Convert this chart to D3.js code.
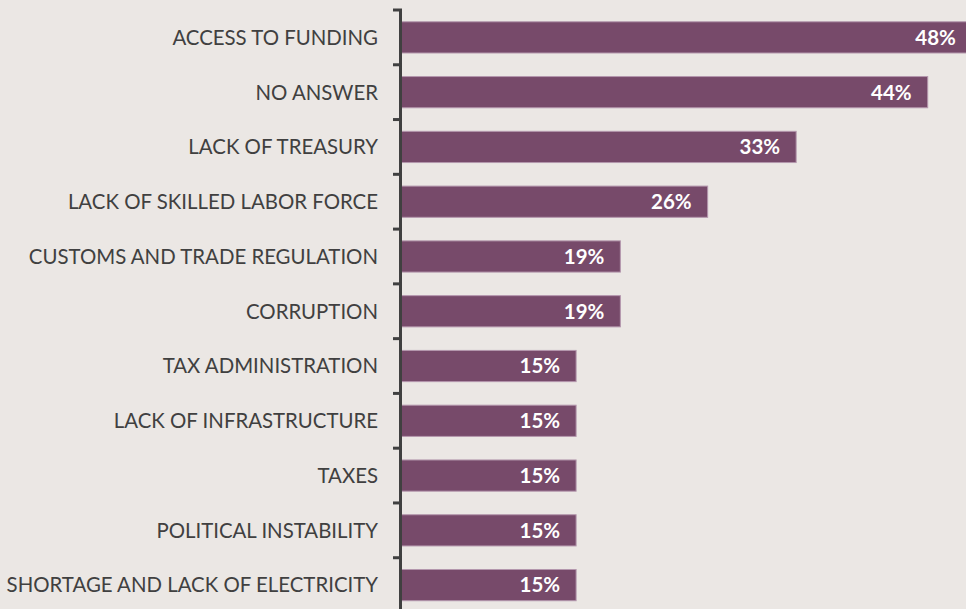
<!DOCTYPE html>
<html>
<head>
<meta charset="utf-8">
<script src="https://cdn.jsdelivr.net/npm/d3@7"></script>
<style>
  html, body { margin: 0; padding: 0; background: #ebe7e4; }
  svg { display: block; }
</style>
</head>
<body>
<svg id="chart" width="966" height="609"></svg>
<script>
const categories = [
  "ACCESS TO FUNDING",
  "NO ANSWER",
  "LACK OF TREASURY",
  "LACK OF SKILLED LABOR FORCE",
  "CUSTOMS AND TRADE REGULATION",
  "CORRUPTION",
  "TAX ADMINISTRATION",
  "LACK OF INFRASTRUCTURE",
  "TAXES",
  "POLITICAL INSTABILITY",
  "SHORTAGE AND LACK OF ELECTRICITY"
];
const values = [47.7, 44.0, 33.0, 25.6, 18.3, 18.3, 14.6, 14.6, 14.6, 14.6, 14.6];
const valueLabels = ["48%", "44%", "33%", "26%", "19%", "19%", "15%", "15%", "15%", "15%", "15%"];

const W = 966, H = 609;
const axisX = 400.5;
const svg = d3.select("#chart");

svg.append("rect").attr("width", W).attr("height", H).attr("fill", "#ebe7e4");

const y = d3.scaleBand()
  .domain(categories)
  .range([10, 612.5])
  .paddingInner(0.43)
  .paddingOuter(0.215);

const x = d3.scaleLinear().domain([0, 44]).range([401.5, 927.7]);

const g = svg.append("g");

// bars
g.selectAll("rect.bar")
  .data(categories)
  .join("rect")
  .attr("class", "bar")
  .attr("x", x(0))
  .attr("y", d => y(d))
  .attr("width", (d, i) => x(values[i]) - x(0))
  .attr("height", y.bandwidth())
  .attr("fill", "#774a6a")
  .attr("stroke", "#b497ad")
  .attr("stroke-width", 1);

// value labels
g.selectAll("text.val")
  .data(categories)
  .join("text")
  .attr("class", "val")
  .attr("x", (d, i) => x(values[i]) - 16)
  .attr("y", d => y(d) + y.bandwidth() / 2)
  .attr("dy", "0.36em")
  .attr("text-anchor", "end")
  .attr("fill", "#ffffff")
  .attr("font-family", "Lato, 'Open Sans', sans-serif")
  .attr("font-weight", "bold")
  .attr("font-size", "20.5px")
  .text((d, i) => valueLabels[i]);

// category labels
g.selectAll("text.cat")
  .data(categories)
  .join("text")
  .attr("class", "cat")
  .attr("x", 378)
  .attr("y", d => y(d) + y.bandwidth() / 2)
  .attr("dy", "0.36em")
  .attr("text-anchor", "end")
  .attr("fill", "#404040")
  .attr("font-family", "Lato, 'Open Sans', sans-serif")
  .attr("font-size", "20.4px")
  .text(d => d);

// axis line
const step = y.step();
const y0 = y.range()[0];
svg.append("line")
  .attr("x1", axisX).attr("x2", axisX)
  .attr("y1", y0).attr("y2", H)
  .attr("stroke", "#404040")
  .attr("stroke-width", 3);

// ticks at band boundaries
const boundaries = d3.range(categories.length + 1).map(i => y0 + i * step);
svg.selectAll("line.tick")
  .data(boundaries)
  .join("line")
  .attr("class", "tick")
  .attr("x1", 393).attr("x2", axisX + 1.5)
  .attr("y1", d => d).attr("y2", d => d)
  .attr("stroke", "#404040")
  .attr("stroke-width", 3);
</script>
</body>
</html>
